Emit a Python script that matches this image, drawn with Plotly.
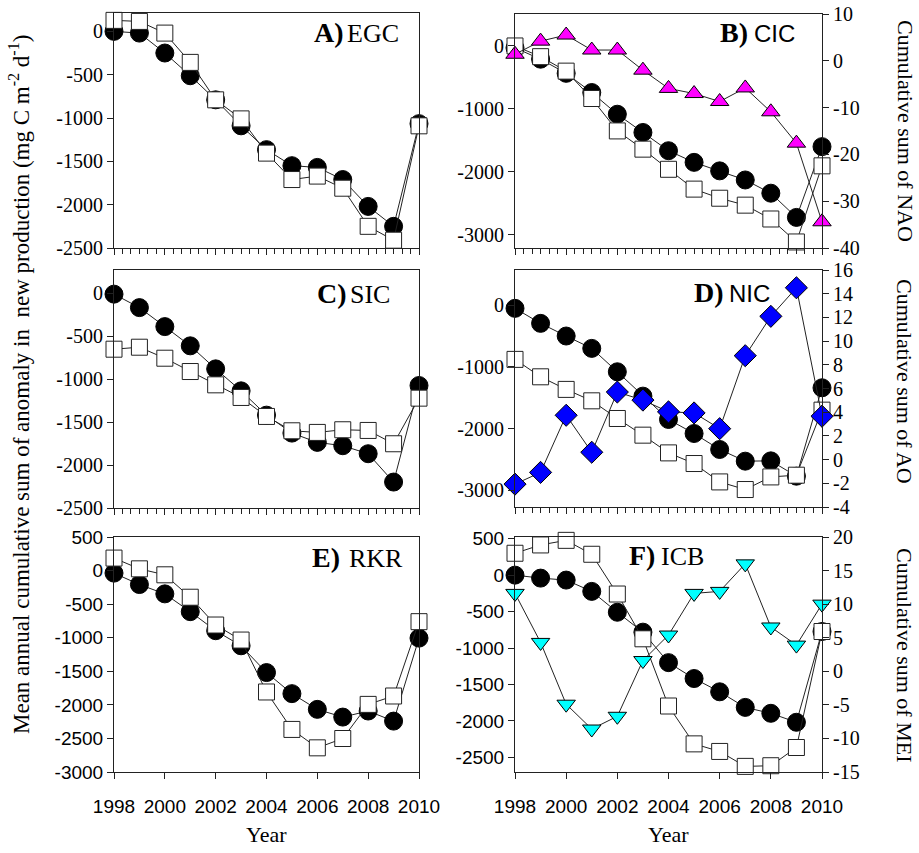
import plotly.graph_objects as go

# ---------------- data ----------------
years = [1998, 1999, 2000, 2001, 2002, 2003, 2004, 2005, 2006, 2007, 2008, 2009, 2010]

egc_filled = [0, -20, -250, -512, -790, -1090, -1365, -1550, -1570, -1710, -2020, -2250, -1065]
egc_open = [127, 115, -20, -358, -790, -1010, -1405, -1710, -1670, -1810, -2250, -2410, -1090]

cic_filled = [-30, -210, -435, -740, -1085, -1375, -1665, -1850, -1985, -2130, -2340, -2725, -1600]
cic_open = [0, -170, -400, -835, -1350, -1640, -1960, -2275, -2420, -2530, -2750, -3115, -1905]
cic_nao = [1.4, 4.2, 5.5, 2.3, 2.3, -2.0, -5.9, -7.0, -8.7, -5.8, -10.9, -17.6, -34.4]

sic_filled = [-10, -167, -388, -612, -880, -1136, -1419, -1628, -1736, -1775, -1868, -2198, -1074]
sic_open = [-651, -628, -756, -911, -1066, -1213, -1434, -1601, -1620, -1589, -1597, -1752, -1221]

nic_filled = [-54, -297, -502, -702, -1081, -1475, -1853, -2080, -2339, -2528, -2523, -2771, -1340]
nic_open = [-880, -1162, -1366, -1551, -1837, -2107, -2394, -2566, -2864, -2987, -2783, -2755, -1702]
nic_ao = [-2.07, -1.08, 3.74, 0.62, 5.70, 5.02, 4.03, 3.94, 2.61, 8.77, 12.09, 14.5, 3.66]

rkr_filled = [-38, -208, -347, -612, -896, -1120, -1519, -1833, -2067, -2182, -2092, -2242, -1006]
rkr_open = [186, 26, -63, -397, -811, -1035, -1808, -2366, -2640, -2501, -1993, -1868, -761]

icb_filled = [0, -41, -68, -223, -509, -782, -1200, -1418, -1600, -1814, -1895, -2018, -773]
icb_open = [300, 414, 477, 286, -259, -873, -1795, -2314, -2418, -2623, -2614, -2364, -773]
icb_mei = [11.6, 4.3, -4.9, -8.6, -6.7, 1.6, 5.4, 11.6, 11.9, 16.0, 6.6, 3.9, 10.0]

x_tickvals = [1998, 2000, 2002, 2004, 2006, 2008, 2010]
x_ticktext = ["1998", "2000", "2002", "2004", "2006", "2008", "2010"]

y_ticks_2500 = [0, -500, -1000, -1500, -2000, -2500]
y_text_2500 = ["0", "-500", "-1000", "-1500", "-2000", "-2500"]
y_ticks_3000k = [0, -1000, -2000, -3000]
y_text_3000k = ["0", "-1000", "-2000", "-3000"]
y_ticks_E = [500, 0, -500, -1000, -1500, -2000, -2500, -3000]
y_text_E = ["500", "0", "-500", "-1000", "-1500", "-2000", "-2500", "-3000"]
y_ticks_F = [500, 0, -500, -1000, -1500, -2000, -2500]
y_text_F = ["500", "0", "-500", "-1000", "-1500", "-2000", "-2500"]
nao_ticks = [10, 0, -10, -20, -30, -40]
nao_text = ["10", "0", "-10", "-20", "-30", "-40"]
ao_ticks = [16, 14, 12, 10, 8, 6, 4, 2, 0, -2, -4]
ao_text = ["16", "14", "12", "10", "8", "6", "4", "2", "0", "-2", "-4"]
mei_ticks = [20, 15, 10, 5, 0, -5, -10, -15]
mei_text = ["20", "15", "10", "5", "0", "-5", "-10", "-15"]

panel_labels = ["A)", "B)", "C)", "D)", "E)", "F)"]
panel_names = ["EGC", "CIC", "SIC", "NIC", "RKR", "ICB"]

# ---------------- layout geometry (pixels) ----------------
W, H = 919, 853
boxes = [
    (114, 419, 13, 248),   # A
    (515, 822, 14, 248),   # B
    (114, 419, 270, 508),  # C
    (515, 822, 270, 507),  # D
    (114, 419, 537, 772),  # E
    (515, 822, 537, 772),  # F
]
yranges = [[-2500, 212], [-3211, 508], [-2500, 271], [-3270, 567], [-3000, 500], [-2700, 523]]
ytick_sets = [(y_ticks_2500, y_text_2500), (y_ticks_3000k, y_text_3000k),
              (y_ticks_2500, y_text_2500), (y_ticks_3000k, y_text_3000k),
              (y_ticks_E, y_text_E), (y_ticks_F, y_text_F)]

SERIF = "Liberation Serif, Times New Roman, serif"
SANS = "Liberation Sans, Arial, sans-serif"
LC = "#222222"

fig = go.Figure()

pairs = [(egc_filled, egc_open), (cic_filled, cic_open), (sic_filled, sic_open),
         (nic_filled, nic_open), (rkr_filled, rkr_open), (icb_filled, icb_open)]

for i, (filled, opened) in enumerate(pairs):
    xa = "x" if i == 0 else f"x{i+1}"
    ya = "y" if i == 0 else f"y{i+1}"
    fig.add_trace(go.Scatter(x=years, y=filled, mode="lines+markers", xaxis=xa, yaxis=ya,
                             line=dict(color=LC, width=1),
                             marker=dict(symbol="circle", size=18, color="black",
                                         line=dict(color="black", width=1)),
                             cliponaxis=False, showlegend=False))
    fig.add_trace(go.Scatter(x=years, y=opened, mode="lines+markers", xaxis=xa, yaxis=ya,
                             line=dict(color=LC, width=1),
                             marker=dict(symbol="square", size=16, color="white",
                                         line=dict(color=LC, width=1)),
                             cliponaxis=False, showlegend=False))

# index series on right axes
fig.add_trace(go.Scatter(x=years, y=cic_nao, mode="lines+markers", xaxis="x2", yaxis="y7",
                         line=dict(color=LC, width=1),
                         marker=dict(symbol="triangle-up", size=16, color="#FF00FF",
                                     line=dict(color="black", width=1)),
                         cliponaxis=False, showlegend=False))
fig.add_trace(go.Scatter(x=years, y=nic_ao, mode="lines+markers", xaxis="x4", yaxis="y8",
                         line=dict(color=LC, width=1),
                         marker=dict(symbol="diamond", size=17, color="#0000FF",
                                     line=dict(color="black", width=1)),
                         cliponaxis=False, showlegend=False))
fig.add_trace(go.Scatter(x=years, y=icb_mei, mode="lines+markers", xaxis="x6", yaxis="y9",
                         line=dict(color=LC, width=1),
                         marker=dict(symbol="triangle-down", size=16, color="#00FFFF",
                                     line=dict(color="black", width=1)),
                         cliponaxis=False, showlegend=False))

layout = dict(width=W, height=H,
              margin=dict(l=0, r=0, t=0, b=0, pad=0, autoexpand=False),
              paper_bgcolor="white", plot_bgcolor="white", showlegend=False)

minor_vals = [1998 + k / 3 for k in range(37)]

for i, (x0, x1, y0, y1) in enumerate(boxes):
    xk = "xaxis" if i == 0 else f"xaxis{i+1}"
    yk = "yaxis" if i == 0 else f"yaxis{i+1}"
    bottom = i >= 4
    xax = dict(domain=[x0 / W, x1 / W], anchor="y" if i == 0 else f"y{i+1}",
               range=[1998, 2010], showgrid=False, zeroline=False, automargin=False,
               showline=True, mirror=True, linecolor=LC, linewidth=1,
               ticks="outside", ticklen=6, tickwidth=1, tickcolor=LC,
               tickmode="array", tickvals=x_tickvals, ticktext=x_ticktext,
               showticklabels=bottom, ticklabelstandoff=11,
               tickfont=dict(family=SANS, size=19, color="black"))
    if not bottom:
        xax["minor"] = dict(tickmode="array", tickvals=minor_vals, ticks="outside",
                            ticklen=5, tickwidth=1, tickcolor=LC)
    layout[xk] = xax
    tv, tt = ytick_sets[i]
    yfont = SANS if bottom else SERIF
    layout[yk] = dict(domain=[1 - y1 / H, 1 - y0 / H], anchor="x" if i == 0 else f"x{i+1}",
                      range=yranges[i], showgrid=False, zeroline=False, automargin=False,
                      showline=True, mirror=True, linecolor=LC, linewidth=1,
                      ticks="outside", ticklen=6, tickwidth=1, tickcolor=LC,
                      tickmode="array", tickvals=tv, ticktext=tt,
                      tickfont=dict(family=yfont, size=20 if not bottom else 19, color="black"))

right_axes = [("yaxis7", "x2", "y2", [-40, 10], nao_ticks, nao_text),
              ("yaxis8", "x4", "y4", [-4, 16], ao_ticks, ao_text),
              ("yaxis9", "x6", "y6", [-15, 20], mei_ticks, mei_text)]
for key, anc, ov, rng, tv, tt in right_axes:
    layout[key] = dict(overlaying=ov, anchor=anc, side="right", range=rng,
                       showgrid=False, zeroline=False, automargin=False,
                       showline=True, linecolor=LC, linewidth=1,
                       ticks="outside", ticklen=6, tickwidth=1, tickcolor=LC,
                       tickmode="array", tickvals=tv, ticktext=tt,
                       tickfont=dict(family=SERIF, size=20, color="black"))

fig.update_layout(**layout)

# panel titles: bold letter + station name
label_left = [312, 718, 315, 692, 310, 627]
name_left = [345, 752, 348, 727, 347, 659]
title_y = [33, 33, 293, 292, 557, 555]
name_fonts = [SERIF, SANS, SERIF, SANS, SERIF, SERIF]
name_sizes = [26, 24, 26, 24, 26, 26]
for lab, name, lx, nx, py, nf, ns in zip(panel_labels, panel_names, label_left, name_left,
                                          title_y, name_fonts, name_sizes):
    fig.add_annotation(xref="paper", yref="paper", x=lx / W, y=1 - py / H,
                       xanchor="left", yanchor="middle", showarrow=False,
                       text=f"<b>{lab}</b>", font=dict(family=SERIF, size=28, color="black"))
    fig.add_annotation(xref="paper", yref="paper", x=nx / W, y=1 - (py + 1) / H,
                       xanchor="left", yanchor="middle", showarrow=False,
                       text=name, font=dict(family=nf, size=ns, color="black"))

# axis titles
fig.add_annotation(xref="paper", yref="paper", x=20 / W, y=1 - 385 / H,
                   xanchor="center", yanchor="middle", showarrow=False, textangle=-90,
                   text="Mean annual cumulative sum of anomaly in\u00a0 new production "
                        "(mg C m<sup>-2</sup> d<sup>-1</sup>)",
                   font=dict(family=SERIF, size=23, color="black"))
for txt, py in [("Cumulative sum of NAO", 131), ("Cumulative sum of AO", 381),
                ("Cumulative sum of MEI", 655)]:
    fig.add_annotation(xref="paper", yref="paper", x=905 / W, y=1 - py / H,
                       xanchor="center", yanchor="middle", showarrow=False, textangle=90,
                       text=txt, font=dict(family=SERIF, size=22, color="black"))
for px in (266, 668):
    fig.add_annotation(xref="paper", yref="paper", x=px / W, y=1 - 834 / H,
                       xanchor="center", yanchor="middle", showarrow=False,
                       text="Year", font=dict(family=SERIF, size=22, color="black"))

fig.write_html("out.html",
               config={"displayModeBar": False},
               post_script="document.body.style.margin='0';"
                           "document.body.style.overflow='hidden';")
